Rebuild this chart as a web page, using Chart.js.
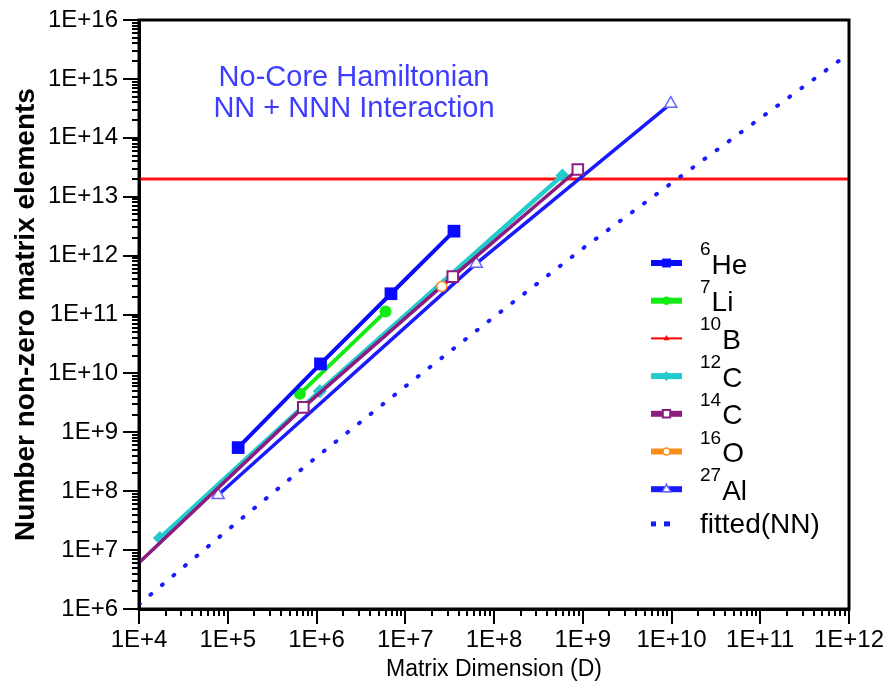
<!DOCTYPE html>
<html>
<head>
<meta charset="utf-8">
<script src="https://cdn.jsdelivr.net/npm/chart.js@4.4.1/dist/chart.umd.min.js"></script>
<style>
  body { margin: 0; background: #fff; }
  #chart { display: block; }
</style>
</head>
<body>
<canvas id="chart" width="892" height="686"></canvas>
<script>
// matrix dimension D and number of non-zero matrix elements, per nucleus
const he6X = [1.31e5, 1.11e6, 6.9e6, 3.54e7];
const he6Y = [5.5e8, 1.45e10, 2.25e11, 2.6e12];
const li7X = [6.5e5, 6.0e6];
const li7Y = [4.5e9, 1.12e11];
const b10X = [7.1e5, 3.43e7, 8.8e8];
const b10Y = [2.6e9, 4.3e11, 2.9e13];
const c12X = [1.72e4, 1.09e6, 5.9e8];
const c12Y = [1.6e7, 5.0e9, 2.3e13];
const c14X = [1e4, 7.1e5, 3.43e7, 8.8e8];
const c14Y = [6.1e6, 2.65e9, 4.4e11, 2.9e13];
const o16X = [2.58e7];
const o16Y = [3.0e11];
const al27X = [7.8e4, 6.3e7, 9.8e9];
const al27Y = [8.6e7, 7.3e11, 3.8e14];

// fitted curve for NN interaction only
const fitX = [1e4, 1e5, 1e6, 1e7, 1e8, 1e9, 1e10, 1e11, 1e12];
const fitY = [1.2e6, 2.2e7, 3.8e8, 6.0e9, 9.1e10, 1.32e12, 1.7e13, 2.15e14, 2.7e15];

// storage limit (horizontal line)
const limitX = [1e4, 1e12];
const limitY = 2e13;

// legend labels: mass number (superscript) + element
const massNumbers = ["6", "7", "10", "12", "14", "16", "27"];
const elements = ["He", "Li", "B", "C", "C", "O", "Al"];

const toPoints = (xs, ys) => xs.map((x, i) => ({ x: x, y: Array.isArray(ys) ? ys[i] : ys }));

const series = [
  { x: he6X, y: he6Y, color: "#0a0aff", width: 4, style: "rect", r: 9, fill: "#0a0aff", bw: 0, order: 1 },
  { x: li7X, y: li7Y, color: "#14ea14", width: 4, style: "circle", r: 6, fill: "#14ea14", bw: 0, order: 2 },
  { x: b10X, y: b10Y, color: "#ff0000", width: 1.5, style: "triangle", r: 5, fill: "#ff0000", bw: 0, order: 7 },
  { x: c12X, y: c12Y, color: "#22cccc", width: 4.5, style: "rectRot", r: 7, fill: "#22cccc", bw: 0, order: 6 },
  { x: c14X, y: c14Y, color: "#8c1c80", width: 3.5, style: "rect", r: 7.5, fill: "#ffffff", bw: 2, order: 4, pointColor: "#8c1c80" },
  { x: o16X, y: o16Y, color: "#ff8c1a", width: 3, style: "circle", r: 5, fill: "#ffffff", bw: 1.5, order: 3 },
  { x: al27X, y: al27Y, color: "#1a1aff", width: 3.5, style: "triangle", r: 7, fill: "#ffffff", bw: 1.5, order: 5, pointColor: "#6262ff" }
];

const datasets = series.map((s, i) => ({
  label: massNumbers[i] + elements[i],
  data: toPoints(s.x, s.y),
  borderColor: s.color,
  borderWidth: s.width,
  pointStyle: s.style,
  // 14C line runs in from the left edge without a marker there
  pointRadius: s.x.map((x) => (x <= 1e4 ? 0 : s.r)),
  pointBackgroundColor: s.fill,
  pointBorderColor: s.pointColor || s.color,
  pointBorderWidth: s.bw,
  order: s.order,
  tension: 0
}));

datasets.push({
  label: "fitted(NN)",
  data: toPoints(fitX, fitY),
  borderColor: "#1a1aff",
  borderWidth: 4,
  borderDash: [1, 14],
  borderCapStyle: "round",
  pointRadius: 0,
  order: 8
});

datasets.push({
  label: "limit",
  data: toPoints(limitX, limitY),
  borderColor: "#ff1010",
  borderWidth: 3,
  pointRadius: 0,
  order: 9
});

const isDecade = (v) => {
  const e = Math.log10(v);
  return Math.abs(e - Math.round(e)) < 1e-9;
};

// frame, major/minor log ticks, annotation and legend
const decorations = {
  id: "decorations",
  afterDraw(chart) {
    const ctx = chart.ctx;
    const area = chart.chartArea;
    const xs = chart.scales.x;
    const ys = chart.scales.y;
    ctx.save();

    ctx.strokeStyle = "#000";
    ctx.lineWidth = 3;
    ctx.strokeRect(area.left, area.top, area.right - area.left, area.bottom - area.top);

    ctx.lineWidth = 2;
    ctx.beginPath();
    for (let n = 4; n <= 12; n++) {
      for (let m = 1; m <= 9; m++) {
        const v = m * Math.pow(10, n);
        if (v > 1e12 * 1.0001) break;
        const px = Math.round(xs.getPixelForValue(v));
        const len = m === 1 ? 15 : 7;
        ctx.moveTo(px, area.bottom);
        ctx.lineTo(px, area.bottom + len);
      }
    }
    for (let n = 6; n <= 16; n++) {
      for (let m = 1; m <= 9; m++) {
        const v = m * Math.pow(10, n);
        if (v > 1e16 * 1.0001) break;
        const py = Math.round(ys.getPixelForValue(v));
        const len = m === 1 ? 16 : 7;
        ctx.moveTo(area.left, py);
        ctx.lineTo(area.left - len, py);
      }
    }
    ctx.stroke();

    // annotation
    ctx.fillStyle = "#3d3dff";
    ctx.font = "29px 'Liberation Sans', Arial, sans-serif";
    ctx.textAlign = "center";
    ctx.textBaseline = "alphabetic";
    ctx.fillText("No-Core Hamiltonian", 354, 86);
    ctx.fillText("NN + NNN Interaction", 354, 117);

    // legend
    const lx0 = 651, lx1 = 682, tx = 700;
    const rowY = (i) => 263 + i * 37.7;
    ctx.textAlign = "left";
    series.forEach((s, i) => {
      const y = rowY(i);
      ctx.strokeStyle = s.color;
      ctx.lineWidth = s.width > 2 ? 6 : 2;
      ctx.beginPath();
      ctx.moveTo(lx0, y);
      ctx.lineTo(lx1, y);
      ctx.stroke();
      ctx.fillStyle = s.fill;
      ctx.strokeStyle = s.pointColor || s.color;
      ctx.lineWidth = s.bw;
      Chart.helpers.drawPoint(ctx, { pointStyle: s.style, radius: s.r * 0.7, rotation: 0, borderWidth: s.bw }, (lx0 + lx1) / 2, y);

      ctx.fillStyle = "#000";
      ctx.font = "19px 'Liberation Sans', Arial, sans-serif";
      ctx.fillText(massNumbers[i], tx, y - 8);
      const w = ctx.measureText(massNumbers[i]).width;
      ctx.font = "28px 'Liberation Sans', Arial, sans-serif";
      ctx.fillText(elements[i], tx + w + 1, y + 10.5);
    });
    const fy = rowY(7) - 3;
    ctx.fillStyle = "#1a1aff";
    ctx.fillRect(651, fy - 2.5, 5, 5);
    ctx.fillRect(664, fy - 2.5, 6, 5);
    ctx.fillStyle = "#000";
    ctx.font = "28px 'Liberation Sans', Arial, sans-serif";
    ctx.fillText("fitted(NN)", tx, fy + 9);

    ctx.restore();
  }
};

const tickFont = { family: "'Liberation Sans', Arial, sans-serif", size: 24 };

const ctx = document.getElementById("chart").getContext("2d");
const chart = new Chart(ctx, {
  type: "line",
  data: { datasets: datasets },
  options: {
    responsive: false,
    animation: false,
    devicePixelRatio: 1,
    layout: { padding: { top: 20, right: 43, left: 0, bottom: 0 } },
    plugins: {
      legend: { display: false },
      tooltip: { enabled: false }
    },
    scales: {
      x: {
        type: "logarithmic",
        min: 1e4,
        max: 1e12,
        border: { display: true, color: "#000", width: 3 },
        grid: { display: false, drawTicks: false },
        ticks: {
          color: "#000",
          font: tickFont,
          padding: 17,
          autoSkip: false,
          maxRotation: 0,
          callback: (v) => (isDecade(v) ? "1E+" + Math.round(Math.log10(v)) : "")
        },
        title: {
          display: true,
          text: "Matrix Dimension (D)",
          color: "#000",
          font: { family: "'Liberation Sans', Arial, sans-serif", size: 23 },
          padding: { top: 0, bottom: 3 }
        },
        afterFit: (s) => {
          s.height = 77;
          s.paddingLeft = 0;
          s.paddingRight = 0;
        }
      },
      y: {
        type: "logarithmic",
        min: 1e6,
        max: 1e16,
        border: { display: true, color: "#000", width: 3 },
        grid: { display: false, drawTicks: false },
        ticks: {
          color: "#000",
          font: tickFont,
          padding: 21,
          autoSkip: false,
          callback: (v) => (isDecade(v) ? "1E+" + Math.round(Math.log10(v)) : "")
        },
        title: {
          display: true,
          text: "Number non-zero matrix elements",
          color: "#000",
          font: { family: "'Liberation Sans', Arial, sans-serif", size: 28, weight: "bold" },
          padding: { top: 9, bottom: 0 }
        },
        afterFit: (s) => {
          s.width = 139;
          s.paddingTop = 0;
          s.paddingBottom = 0;
        }
      }
    }
  },
  plugins: [decorations]
});
</script>
</body>
</html>
